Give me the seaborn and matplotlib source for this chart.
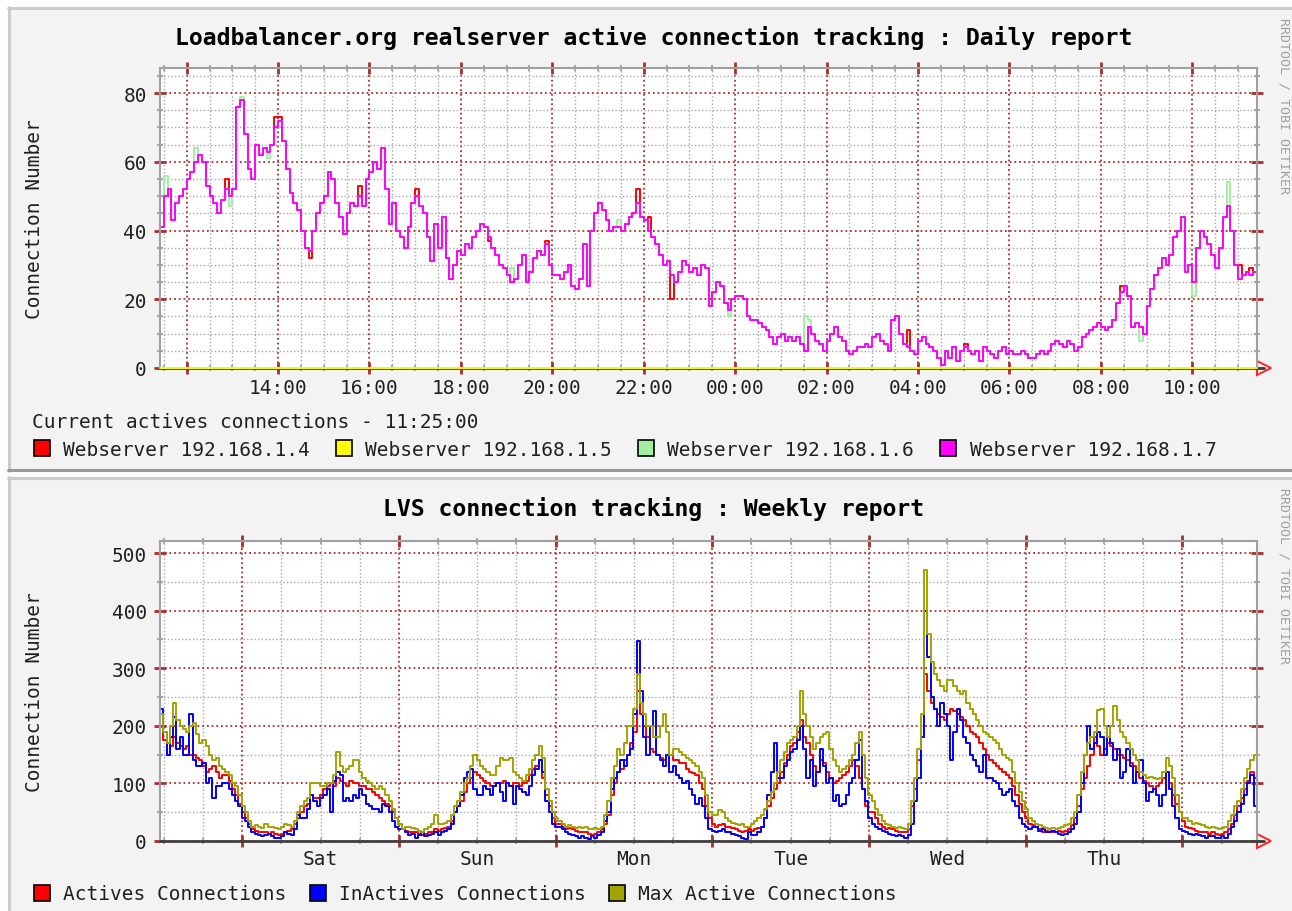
import matplotlib
matplotlib.use("Agg")
import matplotlib.pyplot as plt
import matplotlib.dates as mdates
import matplotlib.ticker as mticker
import numpy as np
import pandas as pd
import seaborn as sns
from matplotlib.lines import Line2D
from matplotlib.patches import Rectangle

W, H = 1292, 912

# daily report: 5 minute samples, 11:25 -> 11:25 next day (one row per hour)
daily_start = "2010-06-10 11:25"
daily_names = ["Webserver 192.168.1.4", "Webserver 192.168.1.5",
               "Webserver 192.168.1.6", "Webserver 192.168.1.7"]
daily_colors = ["#ff0000", "#ffff00", "#a0f0a0", "#ff00ff"]

web_4 = [
    41, 50, 52, 43, 48, 50, 52, 55, 57, 60, 62, 60,
    53, 50, 48, 45, 49, 55, 50, 52, 76, 78, 68, 58,
    55, 65, 62, 64, 63, 65, 73, 73, 66, 58, 51, 48,
    46, 40, 35, 32, 40, 45, 48, 50, 57, 55, 48, 44,
    39, 45, 48, 47, 53, 47, 55, 57, 60, 58, 64, 52,
    42, 48, 40, 38, 35, 41, 48, 52, 47, 45, 38, 31,
    42, 35, 44, 32, 26, 30, 34, 33, 36, 35, 38, 40,
    42, 41, 37, 35, 33, 30, 29, 27, 25, 26, 30, 33,
    25, 28, 32, 34, 33, 37, 30, 27, 27, 26, 28, 30,
    24, 23, 26, 36, 24, 40, 45, 48, 46, 43, 40, 41,
    41, 40, 42, 44, 45, 52, 44, 43, 44, 38, 36, 33,
    30, 31, 20, 25, 28, 31, 30, 28, 29, 27, 30, 29,
    18, 22, 25, 24, 19, 17, 20, 21, 21, 20, 15, 14,
    14, 13, 12, 11, 9, 7, 9, 10, 8, 9, 8, 9,
    7, 5, 12, 10, 8, 7, 5, 8, 10, 12, 9, 8,
    5, 4, 5, 6, 6, 7, 6, 9, 10, 8, 7, 5,
    14, 15, 10, 7, 11, 5, 4, 8, 9, 7, 6, 5,
    3, 1, 5, 3, 6, 2, 5, 7, 5, 4, 5, 2,
    6, 5, 4, 3, 5, 6, 4, 5, 4, 4, 5, 4,
    3, 3, 4, 5, 4, 5, 7, 8, 7, 6, 8, 7,
    5, 6, 9, 10, 11, 12, 13, 12, 11, 12, 14, 19,
    24, 24, 21, 12, 13, 12, 10, 18, 23, 27, 29, 32,
    30, 33, 38, 40, 44, 28, 30, 25, 35, 40, 38, 36,
    33, 29, 35, 44, 47, 40, 30, 30, 27, 28, 29, 28,
    27]
web_5 = [
    0, 0, 0, 0, 0, 0, 0, 0, 0, 0, 0, 0,
    0, 0, 0, 0, 0, 0, 0, 0, 0, 0, 0, 0,
    0, 0, 0, 0, 0, 0, 0, 0, 0, 0, 0, 0,
    0, 0, 0, 0, 0, 0, 0, 0, 0, 0, 0, 0,
    0, 0, 0, 0, 0, 0, 0, 0, 0, 0, 0, 0,
    0, 0, 0, 0, 0, 0, 0, 0, 0, 0, 0, 0,
    0, 0, 0, 0, 0, 0, 0, 0, 0, 0, 0, 0,
    0, 0, 0, 0, 0, 0, 0, 0, 0, 0, 0, 0,
    0, 0, 0, 0, 0, 0, 0, 0, 0, 0, 0, 0,
    0, 0, 0, 0, 0, 0, 0, 0, 0, 0, 0, 0,
    0, 0, 0, 0, 0, 0, 0, 0, 0, 0, 0, 0,
    0, 0, 0, 0, 0, 0, 0, 0, 0, 0, 0, 0,
    0, 0, 0, 0, 0, 0, 0, 0, 0, 0, 0, 0,
    0, 0, 0, 0, 0, 0, 0, 0, 0, 0, 0, 0,
    0, 0, 0, 0, 0, 0, 0, 0, 0, 0, 0, 0,
    0, 0, 0, 0, 0, 0, 0, 0, 0, 0, 0, 0,
    0, 0, 0, 0, 0, 0, 0, 0, 0, 0, 0, 0,
    0, 0, 0, 0, 0, 0, 0, 0, 0, 0, 0, 0,
    0, 0, 0, 0, 0, 0, 0, 0, 0, 0, 0, 0,
    0, 0, 0, 0, 0, 0, 0, 0, 0, 0, 0, 0,
    0, 0, 0, 0, 0, 0, 0, 0, 0, 0, 0, 0,
    0, 0, 0, 0, 0, 0, 0, 0, 0, 0, 0, 0,
    0, 0, 0, 0, 0, 0, 0, 0, 0, 0, 0, 0,
    0, 0, 0, 0, 0, 0, 0, 0, 0, 0, 0, 0,
    0]
web_6 = [
    41, 56, 52, 43, 48, 50, 52, 55, 57, 64, 62, 60,
    53, 50, 48, 45, 49, 52, 47, 52, 76, 79, 68, 58,
    55, 65, 62, 64, 61, 65, 70, 72, 66, 58, 51, 48,
    46, 40, 35, 34, 40, 45, 48, 50, 57, 55, 48, 44,
    39, 45, 48, 47, 47, 47, 55, 57, 60, 58, 64, 52,
    42, 48, 40, 38, 35, 41, 48, 50, 47, 45, 38, 31,
    42, 35, 44, 32, 26, 30, 34, 33, 36, 35, 38, 40,
    42, 41, 38, 35, 33, 30, 29, 27, 29, 26, 30, 33,
    25, 28, 32, 34, 33, 36, 30, 27, 27, 26, 28, 30,
    24, 23, 26, 36, 24, 40, 45, 48, 46, 43, 40, 41,
    43, 40, 42, 44, 45, 48, 44, 43, 40, 38, 36, 33,
    30, 31, 27, 25, 28, 31, 30, 28, 29, 27, 30, 29,
    18, 22, 25, 24, 19, 15, 20, 21, 21, 20, 15, 14,
    14, 13, 12, 11, 9, 7, 9, 10, 8, 9, 8, 9,
    7, 15, 14, 10, 8, 7, 5, 8, 10, 12, 9, 8,
    5, 4, 5, 6, 6, 7, 6, 9, 10, 8, 7, 5,
    14, 15, 10, 7, 6, 5, 4, 8, 9, 7, 6, 5,
    3, 1, 5, 3, 6, 2, 5, 6, 5, 4, 5, 2,
    6, 5, 4, 3, 5, 6, 4, 5, 4, 4, 5, 4,
    3, 3, 4, 5, 4, 5, 7, 8, 7, 6, 8, 7,
    5, 6, 9, 10, 11, 12, 13, 12, 11, 12, 14, 19,
    22, 24, 21, 12, 13, 8, 10, 18, 23, 27, 29, 32,
    30, 33, 38, 40, 44, 28, 30, 21, 35, 40, 38, 36,
    33, 29, 35, 44, 54, 40, 30, 26, 27, 28, 27, 28,
    27]
web_7 = [
    41, 50, 52, 43, 48, 50, 52, 55, 57, 60, 62, 60,
    53, 50, 48, 45, 49, 52, 50, 52, 76, 78, 68, 58,
    55, 65, 62, 64, 63, 65, 70, 72, 66, 58, 51, 48,
    46, 40, 35, 34, 40, 45, 48, 50, 57, 55, 48, 44,
    39, 45, 48, 47, 50, 47, 55, 57, 60, 58, 64, 52,
    42, 48, 40, 38, 35, 41, 48, 50, 47, 45, 38, 31,
    42, 35, 44, 32, 26, 30, 34, 33, 36, 35, 38, 40,
    42, 41, 38, 35, 33, 30, 29, 27, 25, 26, 30, 33,
    25, 28, 32, 34, 33, 36, 30, 27, 27, 26, 28, 30,
    24, 23, 26, 36, 24, 40, 45, 48, 46, 43, 40, 41,
    41, 40, 42, 44, 45, 48, 44, 43, 40, 38, 36, 33,
    30, 31, 27, 25, 28, 31, 30, 28, 29, 27, 30, 29,
    18, 22, 25, 24, 19, 17, 20, 21, 21, 20, 15, 14,
    14, 13, 12, 11, 9, 7, 9, 10, 8, 9, 8, 9,
    7, 5, 12, 10, 8, 7, 5, 8, 10, 12, 9, 8,
    5, 4, 5, 6, 6, 7, 6, 9, 10, 8, 7, 5,
    14, 15, 10, 7, 6, 5, 4, 8, 9, 7, 6, 5,
    3, 1, 5, 3, 6, 2, 5, 6, 5, 4, 5, 2,
    6, 5, 4, 3, 5, 6, 4, 5, 4, 4, 5, 4,
    3, 3, 4, 5, 4, 5, 7, 8, 7, 6, 8, 7,
    5, 6, 9, 10, 11, 12, 13, 12, 11, 12, 14, 19,
    22, 24, 21, 12, 13, 12, 10, 18, 23, 27, 29, 32,
    30, 33, 38, 40, 44, 28, 30, 25, 35, 40, 38, 36,
    33, 29, 35, 44, 47, 40, 30, 26, 27, 28, 27, 28,
    27]

# weekly report: 30 minute samples, Fri 11:25 -> Fri 11:25
weekly_start = "2010-06-04 11:25"
weekly_names = ["Actives Connections", "InActives Connections", "Max Active Connections"]
weekly_colors = ["#ff0000", "#0000ff", "#a3a300"]

actives = [
    200, 175, 150, 165, 180, 170, 165, 160, 165, 150, 150, 145, 140, 130,
    120, 125, 130, 120, 110, 115, 115, 105, 90, 80, 65, 50,
    40, 30, 20, 18, 15, 15, 15, 12, 15, 12, 10, 12, 15, 18, 20, 30,
    40, 50, 60, 65, 80, 75, 75, 80, 90, 95, 100, 95, 110, 105, 100, 95,
    105, 100, 100, 95, 95, 90, 90, 85, 80, 75, 70, 65, 60, 50, 40, 30,
    20, 18, 15, 15, 15, 12, 10, 12, 15, 15, 20, 18, 20, 22, 25, 35,
    50, 60, 70, 85, 100, 110, 120, 115, 110, 105, 100, 95, 95, 100, 100, 105,
    100, 95, 100, 100, 95, 100, 105, 115, 125, 130, 140, 110, 80, 60, 40, 30,
    30, 25, 20, 22, 20, 18, 15, 15, 15, 12, 10, 12, 15, 20, 30, 45,
    80, 100, 120, 125, 140, 150, 170, 190, 260, 220, 200, 180, 160, 155, 150, 145,
    140, 150, 150, 140, 140, 135, 135, 125, 120, 118, 115, 100, 90, 60, 40, 30,
    25, 28, 30, 25, 25, 22, 20, 18, 15, 18, 20, 18, 20, 22, 25, 40,
    60, 75, 90, 100, 120, 135, 150, 165, 170, 190, 210, 180, 170, 150, 130, 120,
    140, 135, 120, 110, 100, 105, 110, 115, 120, 130, 140, 130, 110, 90, 60, 50,
    50, 40, 30, 25, 20, 22, 20, 18, 15, 15, 15, 20, 60, 90, 140, 180,
    290, 260, 240, 230, 220, 215, 210, 220, 230, 225, 220, 215, 210, 200, 190, 185,
    180, 170, 160, 150, 140, 135, 130, 125, 120, 115, 110, 95, 80, 65, 50, 40,
    30, 28, 25, 20, 15, 18, 15, 15, 15, 18, 15, 18, 20, 28, 40, 60,
    90, 110, 130, 150, 180, 165, 150, 160, 170, 165, 160, 150, 150, 145, 140, 135,
    130, 120, 110, 105, 100, 95, 90, 95, 100, 110, 120, 100, 80, 65, 50, 35,
    25, 22, 20, 18, 15, 15, 15, 12, 15, 12, 10, 12, 15, 20, 30, 45,
    60, 75, 90, 105, 120, 110, 110]
inactives = [
    230, 190, 150, 180, 215, 160, 180, 150, 150, 220, 140, 130, 130, 135,
    100, 110, 75, 95, 95, 100, 100, 90, 80, 70, 60, 40,
    35, 25, 15, 12, 10, 8, 10, 12, 8, 5, 5, 8, 15, 12, 10, 20,
    45, 40, 40, 55, 80, 70, 60, 75, 80, 90, 50, 105, 120, 115, 70, 75,
    70, 80, 75, 90, 80, 65, 60, 55, 55, 50, 65, 60, 50, 35, 25, 20,
    20, 15, 10, 12, 5, 10, 15, 8, 10, 12, 15, 10, 15, 18, 20, 30,
    50, 60, 80, 110, 120, 125, 90, 80, 80, 95, 90, 80, 95, 100, 85, 70,
    100, 95, 65, 95, 90, 85, 80, 95, 115, 125, 140, 120, 70, 50, 30, 25,
    25, 20, 15, 12, 10, 8, 5, 8, 5, 3, 8, 5, 10, 15, 35, 50,
    90, 110, 120, 140, 130, 150, 160, 220, 348, 260, 180, 150, 200, 225, 150, 140,
    130, 150, 120, 130, 115, 110, 100, 105, 90, 80, 65, 75, 60, 40, 20, 18,
    15, 18, 20, 15, 15, 12, 10, 8, 5, 3, 15, 10, 10, 15, 25, 40,
    80, 120, 170, 110, 110, 130, 140, 155, 160, 175, 200, 160, 110, 140, 95, 120,
    160, 130, 100, 110, 70, 80, 60, 65, 80, 100, 110, 140, 175, 90, 70, 40,
    30, 25, 20, 18, 15, 12, 10, 8, 10, 8, 5, 10, 30, 70, 110, 180,
    400, 320, 250, 230, 200, 240, 220, 200, 140, 190, 230, 210, 180, 170, 150, 140,
    130, 120, 150, 110, 110, 105, 100, 90, 80, 85, 90, 70, 60, 40, 30, 25,
    20, 25, 25, 18, 20, 15, 15, 18, 15, 12, 10, 12, 15, 20, 30, 50,
    100, 150, 200, 160, 170, 190, 180, 150, 200, 170, 140, 160, 110, 120, 160, 130,
    100, 120, 140, 100, 70, 85, 90, 80, 60, 80, 120, 90, 60, 40, 20, 18,
    15, 12, 10, 12, 10, 8, 5, 8, 8, 5, 5, 8, 5, 12, 25, 35,
    50, 65, 80, 100, 115, 60, 60]
max_active = [
    220, 190, 170, 200, 240, 210, 200, 195, 190, 200, 205, 185, 170, 175,
    165, 150, 140, 145, 130, 125, 120, 115, 100, 95, 80, 60,
    50, 35, 25, 28, 25, 22, 30, 25, 25, 22, 20, 25, 30, 28, 25, 35,
    50, 60, 70, 75, 100, 100, 100, 95, 95, 100, 100, 115, 155, 130, 120, 125,
    130, 140, 140, 120, 110, 105, 100, 95, 90, 95, 90, 80, 70, 55, 40, 30,
    20, 25, 25, 22, 20, 18, 15, 20, 25, 30, 45, 30, 30, 32, 35, 45,
    60, 70, 85, 100, 110, 130, 150, 140, 130, 125, 120, 115, 115, 130, 145, 140,
    140, 145, 120, 115, 110, 105, 115, 125, 140, 150, 165, 145, 90, 70, 50, 40,
    35, 30, 25, 28, 25, 22, 25, 22, 25, 20, 20, 22, 20, 25, 45, 70,
    110, 130, 160, 150, 170, 200, 200, 230, 290, 240, 220, 200, 200, 180, 180, 200,
    220, 190, 150, 160, 160, 155, 150, 145, 140, 135, 130, 120, 110, 80, 50, 45,
    45, 53, 50, 40, 35, 32, 30, 28, 30, 25, 25, 30, 35, 40, 45, 55,
    70, 85, 100, 120, 140, 155, 170, 175, 180, 200, 260, 220, 200, 180, 160, 170,
    180, 185, 190, 160, 140, 130, 120, 125, 130, 140, 150, 170, 190, 150, 110, 80,
    70, 55, 45, 35, 30, 28, 25, 22, 25, 22, 20, 30, 70, 110, 160, 220,
    470, 360, 310, 290, 280, 270, 260, 280, 280, 270, 260, 255, 260, 240, 230, 220,
    210, 200, 190, 185, 180, 175, 170, 160, 150, 145, 140, 120, 100, 85, 70, 55,
    40, 35, 30, 28, 25, 22, 20, 22, 20, 22, 25, 28, 30, 40, 50, 80,
    120, 150, 170, 180, 190, 227, 230, 200, 180, 200, 235, 210, 190, 180, 170, 160,
    150, 140, 120, 115, 110, 112, 110, 108, 110, 120, 145, 130, 110, 80, 50, 40,
    40, 35, 30, 32, 30, 28, 25, 22, 25, 22, 20, 22, 25, 35, 45, 60,
    70, 90, 110, 125, 140, 150, 150]

MGRID = "#a8302c"
GRID = "#a8a8a8"
FONT = ["DejaVu Sans Mono"]

sns.set_theme(style="white")
plt.rcParams["font.family"] = FONT
plt.rcParams["text.color"] = "black"


def fx(x):
    return x / W


def fy(y):
    return 1 - y / H


def long_frame(times, names, series):
    return pd.DataFrame({
        "time": np.tile(times, len(names)),
        "series": np.repeat(names, len(times)),
        "value": np.concatenate(series),
    })


def style_axes(ax, ymax, ymajor, yminor):
    ax.set_facecolor("white")
    ax.set_ylim(0, ymax)
    ax.yaxis.set_major_locator(mticker.MultipleLocator(ymajor))
    ax.yaxis.set_minor_locator(mticker.MultipleLocator(yminor))
    ax.grid(which="minor", color=GRID, linestyle=(0, (1, 1.6)), linewidth=1)
    ax.grid(which="major", color=MGRID, linestyle=(0, (1, 1.6)), linewidth=1.3)
    ax.set_axisbelow(True)
    for side in ["top", "right", "left"]:
        ax.spines[side].set_color("#a0a0a0")
        ax.spines[side].set_linewidth(1.5)
    ax.spines["bottom"].set_color("#404040")
    ax.spines["bottom"].set_linewidth(2)
    ax.tick_params(which="major", direction="inout", length=9, width=2, color=MGRID,
                   labelsize=14, top=True, right=True, bottom=True, left=True,
                   labelcolor="#202020")
    ax.tick_params(which="minor", direction="inout", length=5, width=1.5, color=GRID,
                   labelsize=14, top=True, right=True, bottom=True, left=True,
                   labelcolor="#202020")
    ax.tick_params(axis="x", which="both", pad=3)
    ax.tick_params(axis="y", which="both", pad=5)
    ax.set_xlabel("")
    ax.set_ylabel("Connection Number", fontsize=14, va="center", color="#202020")
    ax.yaxis.set_label_coords(-125 / 1097, 0.5)
    # rrdtool axis arrow
    ax.plot([1.0, 1.006], [0, 0], transform=ax.transAxes, color="#404040", lw=2, clip_on=False)
    ax.plot([1.0065], [0], marker=">", markersize=10, markerfacecolor="none",
            markeredgecolor="#ff2020", markeredgewidth=1.4, transform=ax.transAxes, clip_on=False)


fig = plt.figure(figsize=(W / 100, H / 100), dpi=100, facecolor="white")

# panel backgrounds with rrdtool style shading
for top, bottom in [(8, 472), (478, 930)]:
    fig.patches.append(Rectangle((fx(8), fy(bottom)), fx(W + 20), fy(top) - fy(bottom),
                                 transform=fig.transFigure, facecolor="#f3f3f3",
                                 edgecolor="none", zorder=-3))
    fig.add_artist(Line2D([fx(8), fx(W)], [fy(top + 1), fy(top + 1)], color="#cbcbcb",
                          lw=2.2, zorder=-2))
    fig.add_artist(Line2D([fx(9), fx(9)], [fy(top), fy(min(bottom, H))], color="#cbcbcb",
                          lw=2.2, zorder=-2))
    if bottom < H:
        fig.add_artist(Line2D([fx(8), fx(W)], [fy(bottom - 1), fy(bottom - 1)], color="#999999",
                              lw=2.2, zorder=-2))

# ---- daily report ----
ax1 = fig.add_axes([fx(160), fy(369), 1097 / W, 300 / H])
daily_times = pd.date_range(daily_start, periods=len(web_7), freq="5min")
daily = long_frame(daily_times, daily_names, [web_4, web_5, web_6, web_7])
sns.lineplot(data=daily, x="time", y="value", hue="series", hue_order=daily_names,
             palette=dict(zip(daily_names, daily_colors)), estimator=None,
             drawstyle="steps-post", linewidth=1.4, legend=False, ax=ax1)
# the all-zero server sits on the axis line, keep it visible
ax1.lines[1].set_zorder(3)
ax1.lines[1].set_clip_on(False)
ax1.set_xlim(daily_times[0], daily_times[-1])
ax1.xaxis.set_major_locator(mdates.HourLocator(byhour=range(0, 24, 2)))
ax1.xaxis.set_minor_locator(mdates.MinuteLocator(byminute=[0, 30]))
d0 = pd.Timestamp(daily_start)


def daily_label(x, pos):
    t = pd.Timestamp(mdates.num2date(x)).tz_localize(None)
    if (t - d0).total_seconds() < 3600:
        return ""
    return t.strftime("%H:%M")


ax1.xaxis.set_major_formatter(mticker.FuncFormatter(daily_label))
style_axes(ax1, 87.3, 20, 5)

fig.text(fx(654), fy(38), "Loadbalancer.org realserver active connection tracking : Daily report",
         ha="center", va="center", fontsize=16.7, fontweight="bold")
fig.text(fx(32), fy(423), "Current actives connections - 11:25:00", ha="left", va="center",
         fontsize=14, color="#202020")
h1 = [Line2D([], [], linestyle="none", marker="s", markersize=12, markerfacecolor=c,
             markeredgecolor="black", markeredgewidth=1.2) for c in daily_colors]
fig.legend(h1, daily_names, loc="center left", bbox_to_anchor=(fx(33), fy(450)), ncol=4,
           frameon=False, fontsize=14, handlelength=0.9, handletextpad=0.65,
           columnspacing=1.3, borderpad=0, borderaxespad=0, labelcolor="#202020")
fig.text(fx(1284), fy(18), "RRDTOOL / TOBI OETIKER", rotation=-90, ha="center", va="top",
         fontsize=9.5, color="#a0a0a0")

# ---- weekly report ----
ax2 = fig.add_axes([fx(160), fy(842), 1097 / W, 300 / H])
weekly_times = pd.date_range(weekly_start, periods=len(actives), freq="30min")
weekly = long_frame(weekly_times, weekly_names, [actives, inactives, max_active])
sns.lineplot(data=weekly, x="time", y="value", hue="series", hue_order=weekly_names,
             palette=dict(zip(weekly_names, weekly_colors)), estimator=None,
             drawstyle="steps-post", linewidth=1.4, legend=False, ax=ax2)
ax2.set_xlim(weekly_times[0], weekly_times[-1])
ax2.xaxis.set_major_locator(mdates.DayLocator())
ax2.xaxis.set_major_formatter(mticker.NullFormatter())
ax2.xaxis.set_minor_locator(mdates.HourLocator(byhour=[0, 6, 12, 18]))
w0 = pd.Timestamp(weekly_start)


def weekly_label(x, pos):
    t = pd.Timestamp(mdates.num2date(x)).tz_localize(None)
    if t.hour != 12 or (t - w0).total_seconds() < 3600:
        return ""
    return t.strftime("%a")


ax2.xaxis.set_minor_formatter(mticker.FuncFormatter(weekly_label))
style_axes(ax2, 521, 100, 50)

fig.text(fx(654), fy(509), "LVS connection tracking : Weekly report",
         ha="center", va="center", fontsize=16.7, fontweight="bold")
h2 = [Line2D([], [], linestyle="none", marker="s", markersize=12, markerfacecolor=c,
             markeredgecolor="black", markeredgewidth=1.2) for c in weekly_colors]
fig.legend(h2, weekly_names, loc="center left", bbox_to_anchor=(fx(33), fy(895)), ncol=3,
           frameon=False, fontsize=14, handlelength=0.9, handletextpad=0.65,
           columnspacing=1.15, borderpad=0, borderaxespad=0, labelcolor="#202020")
fig.text(fx(1284), fy(488), "RRDTOOL / TOBI OETIKER", rotation=-90, ha="center", va="top",
         fontsize=9.5, color="#a0a0a0")

fig.savefig("out.png", dpi=100)
